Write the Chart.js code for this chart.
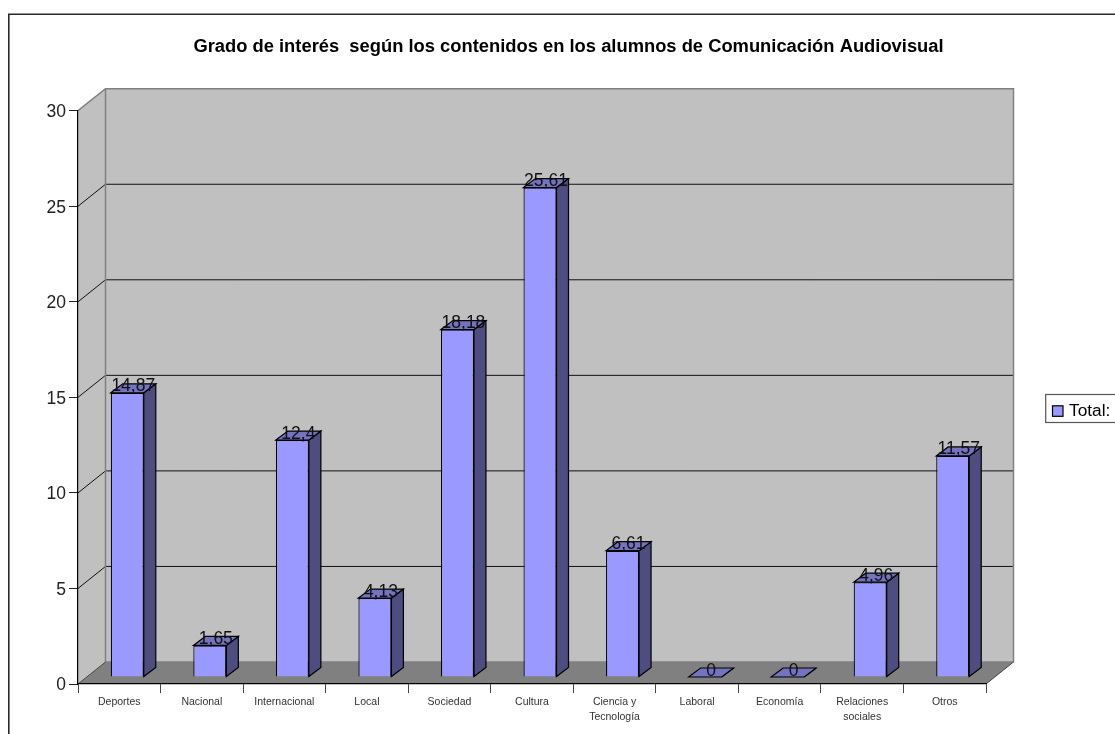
<!DOCTYPE html>
<html><head><meta charset="utf-8">
<script src="https://cdn.jsdelivr.net/npm/chart.js@4"></script>
<style>html,body{margin:0;padding:0;background:#fff;overflow:hidden}#w{position:relative;width:1115px;height:734px}canvas{display:block}</style>
</head><body><div id="w"><canvas id="c" width="1115" height="734"></canvas></div>
<script>
const categories = ["Deportes","Nacional","Internacional","Local","Sociedad","Cultura",["Ciencia y","Tecnología"],"Laboral","Economía",["Relaciones","sociales"],"Otros"];
const totals = [14.87,1.65,12.4,4.13,18.18,25.61,6.61,0,0,4.96,11.57];
const seriesName = "Total:";
const titleText = "Grado de interés  según los contenidos en los alumnos de Comunicación Audiovisual";
const yTicks = [0,5,10,15,20,25,30];

const FONT = '"Liberation Sans", Arial, sans-serif';
const WALL = {dx:27.5, dy:22};
const BAR = {sx:8, sy:7, dx:12, dy:9};
const COL = {wall:'#C0C0C0', floor:'#808080', edge:'#808080', bar:'#9999FF', side:'#4D4D80', top:'#7373BF', ink:'#000000'};

function poly(ctx, pts, fill, stroke, lw){
  ctx.beginPath();
  pts.forEach((p,i)=> i?ctx.lineTo(p[0],p[1]):ctx.moveTo(p[0],p[1]));
  ctx.closePath();
  if(fill){ctx.fillStyle=fill;ctx.fill();}
  if(stroke){ctx.strokeStyle=stroke;ctx.lineWidth=lw||1;ctx.stroke();}
}
function line(ctx,x1,y1,x2,y2,c,lw){ctx.beginPath();ctx.moveTo(x1,y1);ctx.lineTo(x2,y2);ctx.strokeStyle=c;ctx.lineWidth=lw||1;ctx.stroke();}

const walls = {
  id:'walls',
  beforeDraw(chart){
    const ctx=chart.ctx, y=chart.scales.y, a=chart.chartArea;
    const L=a.left,R=a.right,T=a.top,B=a.bottom,dx=WALL.dx,dy=WALL.dy;
    ctx.save();
    // outer frame
    ctx.strokeStyle='#2a2a2a';ctx.lineWidth=1.6;
    ctx.beginPath();ctx.moveTo(8.8,734);ctx.lineTo(8.8,14.2);ctx.lineTo(1115,14.2);ctx.stroke();
    // title
    ctx.fillStyle='#000';ctx.font='bold 18.35px '+FONT;ctx.textAlign='center';ctx.textBaseline='alphabetic';
    ctx.fillText(titleText,568.5,52.4);
    // walls
    poly(ctx,[[L+dx,T-dy],[R+dx,T-dy],[R+dx,B-dy],[L+dx,B-dy]],COL.wall);
    poly(ctx,[[L,T],[L+dx,T-dy],[L+dx,B-dy],[L,B]],COL.wall);
    poly(ctx,[[L,B],[L+dx,B-dy],[R+dx,B-dy],[R,B]],COL.floor);
    // grid on walls
    yTicks.slice(1,-1).forEach(v=>{
      const py=y.getPixelForValue(v);
      line(ctx,L,py,L+dx,py-dy,'#111');
      line(ctx,L+dx,py-dy,R+dx,py-dy,'#111');
    });
    // edges
    ctx.strokeStyle=COL.edge;ctx.lineWidth=1.5;
    ctx.beginPath();ctx.moveTo(L,T);ctx.lineTo(L+dx,T-dy);ctx.lineTo(R+dx,T-dy);ctx.lineTo(R+dx,B-dy);ctx.lineTo(L+dx,B-dy);ctx.lineTo(L+dx,T-dy);ctx.stroke();
    line(ctx,L,B,L+dx,B-dy,'#444');
    line(ctx,R,B,R+dx,B-dy,'#444');
    // legend
    ctx.strokeStyle='#555';ctx.lineWidth=1.2;ctx.strokeRect(1045.7,394.5,72,28);
    ctx.fillStyle=COL.bar;ctx.fillRect(1052.5,405.8,10.5,10.5);
    ctx.strokeStyle='#000';ctx.lineWidth=1.2;ctx.strokeRect(1052.5,405.8,10.5,10.5);
    ctx.fillStyle='#000';ctx.font='17.3px '+FONT;ctx.textAlign='left';
    ctx.fillText(seriesName,1069,416);
    ctx.restore();
  },
  beforeDatasetDraw(chart){
    const ctx=chart.ctx; ctx.save();
    const meta=chart.getDatasetMeta(0);
    meta.data.forEach(el=>{
      const w=el.width,l=el.x-w/2+BAR.sx,r=el.x+w/2+BAR.sx,t=el.y-BAR.sy,b=el.base-BAR.sy;
      poly(ctx,[[r,t],[r+BAR.dx,t-BAR.dy],[r+BAR.dx,b-BAR.dy],[r,b]],COL.side,'#000',1.2);
      poly(ctx,[[l,t],[l+BAR.dx,t-BAR.dy],[r+BAR.dx,t-BAR.dy],[r,t]],COL.top,'#000',1.2);
    });
    ctx.translate(BAR.sx,-BAR.sy);
  },
  afterDatasetDraw(chart){
    const ctx=chart.ctx; ctx.restore();
    ctx.save();
    const meta=chart.getDatasetMeta(0);
    ctx.fillStyle='#111';ctx.font='17.5px '+FONT;ctx.textAlign='center';ctx.textBaseline='alphabetic';
    meta.data.forEach((el,i)=>{
      const txt=String(totals[i]).replace('.',',');
      ctx.fillText(txt,el.x+BAR.sx+BAR.dx/2,el.y-BAR.sy-1.5);
    });
    ctx.restore();
  }
};

new Chart(document.getElementById('c'),{
  type:'bar',
  data:{labels:categories,datasets:[{label:seriesName,data:totals,backgroundColor:COL.bar,borderColor:'#000',borderWidth:1.2,barPercentage:0.4,categoryPercentage:1}]},
  options:{
    responsive:false,animation:false,devicePixelRatio:1,
    layout:{padding:{left:10,right:129,top:110.7,bottom:10}},
    plugins:{legend:{display:false},title:{display:false},tooltip:{enabled:false}},
    scales:{
      x:{
        afterFit(s){s.height=40;},
        grid:{drawOnChartArea:false,drawTicks:true,tickLength:9,color:'#444',offset:true},
        border:{color:'#000',width:1.2},
        ticks:{autoSkip:false,maxRotation:0,font:{family:FONT,size:10.5,lineHeight:1.43},color:'#333',padding:2}
      },
      y:{
        min:0,max:30,
        afterFit(s){s.width=68;},
        afterBuildTicks(s){s.ticks=yTicks.map(v=>({value:v}));},
        grid:{drawOnChartArea:false,drawTicks:true,tickLength:9,color:'#222'},
        border:{color:'#000',width:1.2},
        ticks:{font:{family:FONT,size:17.5,lineHeight:'3px'},color:'#222',padding:3,callback:v=>['',String(v)]}
      }
    }
  },
  plugins:[walls]
});
</script></body></html>
